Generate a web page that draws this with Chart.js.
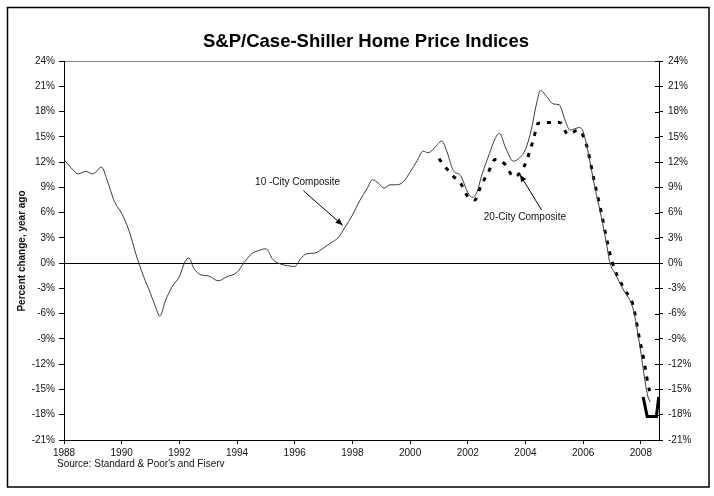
<!DOCTYPE html>
<html>
<head>
<meta charset="utf-8">
<script src="https://cdn.jsdelivr.net/npm/chart.js@4.4.0/dist/chart.umd.min.js"></script>
<style>
  html, body { margin: 0; padding: 0; background: #fff; }
  #wrap { width: 714px; height: 496px; }
</style>
</head>
<body>
<div id="wrap"><canvas id="chart" width="714" height="496"></canvas></div>
<script>
// 10-City Composite, year-over-year % change
const tenCityYears = [
  1988.0, 1988.25, 1988.5, 1988.75, 1989.0, 1989.3, 1989.5, 1989.75,
  1990.0, 1990.25, 1990.5, 1990.75, 1991.0, 1991.15, 1991.33, 1991.5, 1991.75,
  1992.0, 1992.2, 1992.33, 1992.5, 1992.75, 1993.0, 1993.35, 1993.65,
  1994.0, 1994.25, 1994.5, 1994.75, 1995.0, 1995.25, 1995.5, 1995.75,
  1996.0, 1996.2, 1996.4, 1996.7, 1997.0, 1997.25, 1997.5, 1997.75,
  1998.0, 1998.25, 1998.5, 1998.7, 1998.9, 1999.1, 1999.3, 1999.5, 1999.75,
  2000.0, 2000.25, 2000.45, 2000.63, 2000.85, 2001.1, 2001.25, 2001.5, 2001.75,
  2002.0, 2002.17, 2002.3, 2002.5, 2002.75, 2002.95, 2003.1, 2003.3, 2003.58, 2003.8,
  2004.0, 2004.2, 2004.4, 2004.52, 2004.75, 2004.96, 2005.17, 2005.37, 2005.54, 2005.75,
  2005.88, 2006.0, 2006.17, 2006.4, 2006.63, 2006.81, 2006.93, 2007.1, 2007.4, 2007.73,
  2007.97, 2008.14, 2008.25, 2008.33
];
const tenCityValues = [
  12.3, 11.3, 10.6, 10.9, 10.6, 11.4, 9.8, 7.3,
  5.9, 3.9, 1.0, -1.5, -3.6, -5.0, -6.3, -4.6, -2.8,
  -1.6, 0.2, 0.6, -0.6, -1.4, -1.5, -2.1, -1.6,
  -1.1, 0.1, 1.1, 1.5, 1.7, 0.4, -0.1, -0.3,
  -0.4, 0.5, 1.1, 1.2, 1.8, 2.4, 3.0, 4.3,
  5.7, 7.4, 8.8, 9.9, 9.5, 8.9, 9.3, 9.3, 9.6,
  10.8, 12.2, 13.3, 13.1, 13.7, 14.5, 13.5, 11.0, 10.4,
  8.4, 7.8, 8.3, 10.6, 13.0, 14.8, 15.4, 13.8, 12.1, 12.5,
  13.5, 15.8, 19.2, 20.5, 19.7, 18.9, 18.8, 17.0, 15.8, 16.0,
  16.1, 15.6, 13.2, 9.1, 5.5, 2.3, 0.0, -1.2, -3.2, -5.4,
  -9.9, -13.9, -15.9, -16.5
];

// 20-City Composite (starts 2001)
const twentyCityYears = [
  2001.0, 2001.25, 2001.5, 2001.75, 2002.0, 2002.24, 2002.47, 2002.7, 2002.95,
  2003.33, 2003.58, 2003.94, 2004.27, 2004.44, 2004.73, 2005.19, 2005.48, 2005.83,
  2006.1, 2006.4, 2006.63, 2006.85, 2007.0, 2007.2, 2007.45, 2007.73,
  2007.97, 2008.08, 2008.17, 2008.25, 2008.33
];
const twentyCityValues = [
  12.4, 11.3, 10.3, 9.5, 7.9, 7.5, 9.3, 10.7, 12.3,
  11.6, 10.25, 11.4, 14.6, 16.6, 16.7, 16.7, 15.3, 15.8,
  14.2, 9.5, 6.0, 2.3, 0.2, -1.6, -3.2, -5.0,
  -9.3, -11.0, -12.8, -14.4, -15.5
];

// the heavy black bracket drawn at the end of the series
const bracketYears = [2008.08, 2008.22, 2008.54, 2008.62];
const bracketValues = [-15.9, -18.2, -18.2, -15.9];

const yearTicks = [1988, 1990, 1992, 1994, 1996, 1998, 2000, 2002, 2004, 2006, 2008];
const percentTicks = [-21, -18, -15, -12, -9, -6, -3, 0, 3, 6, 9, 12, 15, 18, 21, 24];

const seriesLabels = ['10 -City Composite', '20-City Composite'];
const noteTextAt = [[1996.1, 9.65], [2003.98, 5.43]];
const noteArrowFrom = [[1996.3, 8.6], [2004.56, 6.3]];
const noteArrowTo = [[1997.66, 4.5], [2003.81, 10.5]];

const FONT = '"Liberation Sans", Arial, sans-serif';

const toPoints = (xs, ys) => xs.map((x, i) => ({ x: x, y: ys[i] }));

const decorations = {
  id: 'decorations',
  afterDraw(chart) {
    const { ctx } = chart;
    const x = chart.scales.x;
    const y = chart.scales.y;
    ctx.save();

    // outer frame
    ctx.strokeStyle = '#000';
    ctx.lineWidth = 1.5;
    ctx.strokeRect(7.5, 7.5, 701.5, 479.5);

    // title
    ctx.fillStyle = '#000';
    ctx.font = 'bold 18.5px ' + FONT;
    ctx.textAlign = 'center';
    ctx.textBaseline = 'middle';
    ctx.fillText('S&P/Case-Shiller Home Price Indices', 366, 42);

    // y axis title
    ctx.save();
    ctx.translate(22, 251);
    ctx.rotate(-Math.PI / 2);
    ctx.font = 'bold 10px ' + FONT;
    ctx.fillStyle = '#111';
    ctx.fillText('Percent change, year ago', 0, 0);
    ctx.restore();

    // source
    ctx.font = '10px ' + FONT;
    ctx.fillStyle = '#111';
    ctx.textAlign = 'left';
    ctx.fillText('Source: Standard & Poor\'s and Fiserv', 57, 464);

    // inner half of the right axis ticks
    const right = chart.chartArea.right;
    ctx.strokeStyle = '#000';
    ctx.lineWidth = 1;
    percentTicks.forEach(v => {
      const py = Math.round(y.getPixelForValue(v)) + 0.5;
      ctx.beginPath();
      ctx.moveTo(right - 4, py);
      ctx.lineTo(right, py);
      ctx.stroke();
    });

    // annotations with arrows
    ctx.font = '10px ' + FONT;
    ctx.textAlign = 'center';
    ctx.fillStyle = '#111';
    seriesLabels.forEach((label, i) => {
      ctx.fillText(label, x.getPixelForValue(noteTextAt[i][0]), y.getPixelForValue(noteTextAt[i][1]));
      const x1 = x.getPixelForValue(noteArrowFrom[i][0]);
      const y1 = y.getPixelForValue(noteArrowFrom[i][1]);
      const x2 = x.getPixelForValue(noteArrowTo[i][0]);
      const y2 = y.getPixelForValue(noteArrowTo[i][1]);
      ctx.strokeStyle = '#000';
      ctx.lineWidth = 1;
      ctx.beginPath();
      ctx.moveTo(x1, y1);
      ctx.lineTo(x2, y2);
      ctx.stroke();
      const a = Math.atan2(y2 - y1, x2 - x1);
      ctx.beginPath();
      ctx.moveTo(x2, y2);
      ctx.lineTo(x2 - 7 * Math.cos(a) + 3 * Math.sin(a), y2 - 7 * Math.sin(a) - 3 * Math.cos(a));
      ctx.lineTo(x2 - 7 * Math.cos(a) - 3 * Math.sin(a), y2 - 7 * Math.sin(a) + 3 * Math.cos(a));
      ctx.closePath();
      ctx.fillStyle = '#000';
      ctx.fill();
      ctx.fillStyle = '#111';
    });

    ctx.restore();
  }
};

new Chart(document.getElementById('chart'), {
  type: 'line',
  data: {
    datasets: [
      {
        label: seriesLabels[0],
        data: toPoints(tenCityYears, tenCityValues),
        borderColor: '#3a3a3a',
        borderWidth: 1,
        pointRadius: 0,
        cubicInterpolationMode: 'monotone',
        fill: false
      },
      {
        label: seriesLabels[1],
        data: toPoints(twentyCityYears, twentyCityValues),
        borderColor: '#000',
        borderWidth: 3,
        borderDash: [4, 7],
        pointRadius: 0,
        cubicInterpolationMode: 'monotone',
        fill: false
      },
      {
        label: 'bracket',
        data: toPoints(bracketYears, bracketValues),
        borderColor: '#000',
        borderWidth: 3,
        pointRadius: 0,
        tension: 0,
        fill: false
      }
    ]
  },
  options: {
    responsive: false,
    animation: false,
    devicePixelRatio: 1,
    layout: { padding: { top: 61, left: 0, right: 0, bottom: 0 } },
    plugins: {
      legend: { display: false },
      title: { display: false },
      tooltip: { enabled: false }
    },
    scales: {
      x: {
        type: 'linear',
        min: 1988,
        max: 2008.63,
        afterFit: s => { s.height = 56; },
        afterBuildTicks: s => { s.ticks = yearTicks.map(v => ({ value: v })); },
        grid: { drawOnChartArea: false, tickLength: 4, tickColor: '#000' },
        border: { display: true, color: '#000', width: 1 },
        ticks: {
          padding: 3,
          maxRotation: 0,
          color: '#111',
          font: { family: FONT, size: 10 },
          callback: v => String(v)
        }
      },
      y: {
        position: 'left',
        min: -21,
        max: 24,
        afterFit: s => { s.width = 64; },
        afterBuildTicks: s => { s.ticks = percentTicks.map(v => ({ value: v })); },
        grid: {
          color: c => c.tick && c.tick.value === 0 ? '#000' : (c.tick && c.tick.value === 24 ? '#8a8a8a' : 'rgba(0,0,0,0)'),
          tickColor: '#000',
          tickLength: 5
        },
        border: { display: true, color: '#000', width: 1 },
        ticks: {
          padding: 4,
          color: '#111',
          font: { family: FONT, size: 10 },
          callback: v => v + '%'
        }
      },
      y2: {
        position: 'right',
        min: -21,
        max: 24,
        afterFit: s => { s.width = 55; },
        afterBuildTicks: s => { s.ticks = percentTicks.map(v => ({ value: v })); },
        grid: { drawOnChartArea: false, tickColor: '#000', tickLength: 4 },
        border: { display: true, color: '#000', width: 1 },
        ticks: {
          padding: 5,
          color: '#111',
          font: { family: FONT, size: 10 },
          callback: v => v + '%'
        }
      }
    }
  },
  plugins: [decorations]
});
</script>
</body>
</html>
